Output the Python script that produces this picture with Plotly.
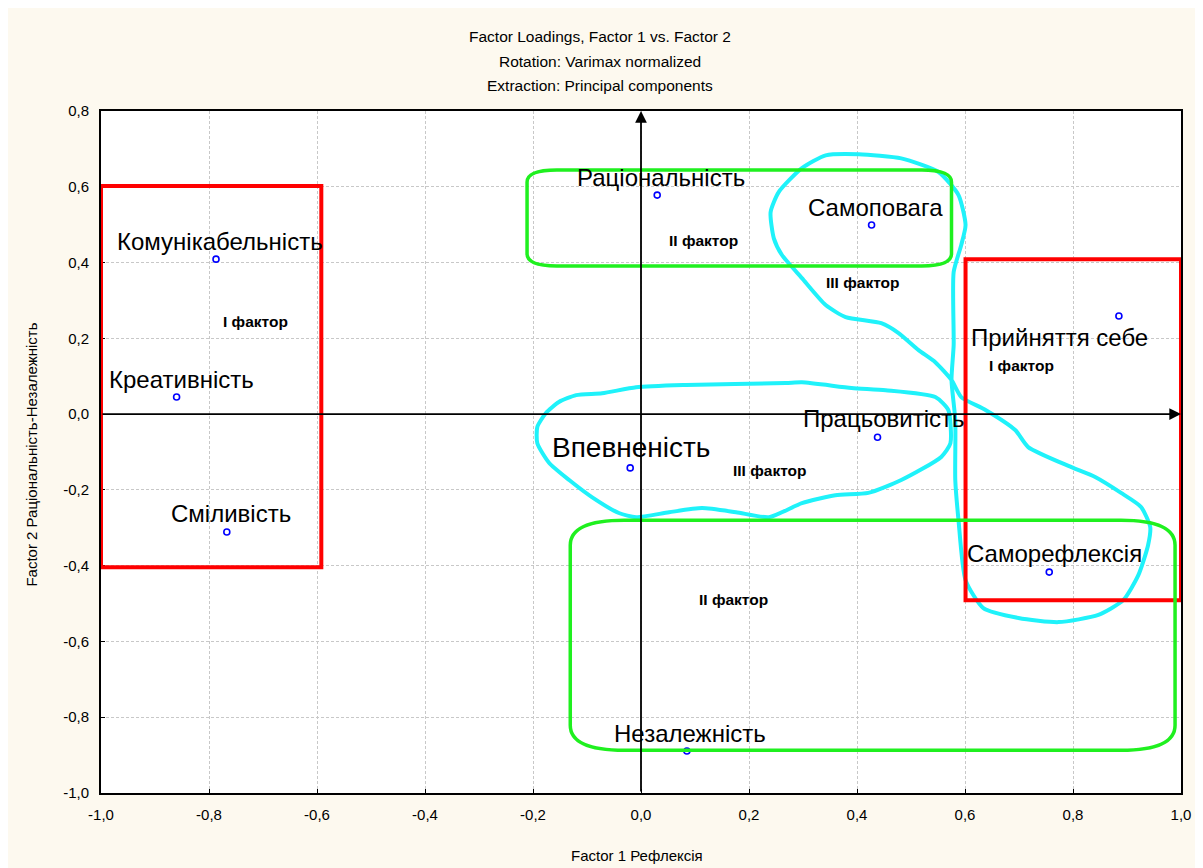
import plotly.graph_objects as go

# ---- data ----
names = ["Комунікабельність", "Креативність", "Сміливість", "Раціональність", "Самоповага",
         "Прийняття себе", "Працьовитість", "Впевненість", "Саморефлексія", "Незалежність"]
factor1 = [-0.787, -0.860, -0.767, 0.030, 0.427, 0.885, 0.438, -0.020, 0.756, 0.085]
factor2 = [0.409, 0.045, -0.311, 0.578, 0.499, 0.259, -0.061, -0.142, -0.417, -0.889]

tick_vals_x = [-1.0, -0.8, -0.6, -0.4, -0.2, 0.0, 0.2, 0.4, 0.6, 0.8, 1.0]
tick_text_x = ["-1,0", "-0,8", "-0,6", "-0,4", "-0,2", "0,0", "0,2", "0,4", "0,6", "0,8", "1,0"]
tick_vals_y = [-1.0, -0.8, -0.6, -0.4, -0.2, 0.0, 0.2, 0.4, 0.6, 0.8]
tick_text_y = ["-1,0", "-0,8", "-0,6", "-0,4", "-0,2", "0,0", "0,2", "0,4", "0,6", "0,8"]

factor_labels = ["I фактор", "II фактор", "III фактор", "I фактор", "III фактор", "II фактор"]
factor_label_x = [-0.713, 0.116, 0.412, 0.704, 0.238, 0.172]
factor_label_y = [0.245, 0.459, 0.348, 0.129, -0.150, -0.488]

# hand-drawn groupings (data units)
red_boxes = [(-1.0, -0.404, -0.592, 0.602), (0.601, -0.491, 1.0, 0.409)]
green_boxes = [(-0.211, 0.391, 0.575, 0.644, 0.055, 0.032),
               (-0.131, -0.887, 0.989, -0.280, 0.10, 0.066)]
cyan_a_x = [0.482, 0.551, 0.588, 0.601, 0.593, 0.579, 0.579, 0.575, 0.582, 0.582, 0.588, 0.601,
            0.634, 0.699, 0.773, 0.847, 0.893, 0.921, 0.939, 0.943, 0.926, 0.889, 0.841, 0.797,
            0.717, 0.693, 0.638, 0.593, 0.575, 0.545, 0.514, 0.477, 0.445, 0.379, 0.342, 0.298,
            0.261, 0.246, 0.240, 0.255, 0.298, 0.342, 0.403, 0.482]
cyan_a_y = [0.675, 0.639, 0.578, 0.499, 0.446, 0.375, 0.182, 0.090, -0.016, -0.174, -0.280, -0.438,
            -0.512, -0.538, -0.549, -0.530, -0.491, -0.425, -0.346, -0.298, -0.245, -0.208, -0.166, -0.140,
            -0.087, -0.042, 0.011, 0.045, 0.090, 0.137, 0.169, 0.214, 0.240, 0.256, 0.288, 0.359,
            0.420, 0.464, 0.533, 0.586, 0.649, 0.683, 0.686, 0.675]
cyan_b_x = [-0.120, -0.072, -0.009, 0.083, 0.268, 0.298, 0.390, 0.453, 0.545, 0.569, 0.573, 0.556,
            0.482, 0.421, 0.360, 0.298, 0.237, 0.176, 0.113, 0.052, -0.009, -0.041, -0.091, -0.133,
            -0.170, -0.192, -0.192, -0.176, -0.152, -0.120]
cyan_b_y = [0.050, 0.055, 0.071, 0.077, 0.082, 0.084, 0.069, 0.063, 0.045, 0.011, -0.077, -0.113,
            -0.174, -0.208, -0.214, -0.235, -0.272, -0.259, -0.248, -0.259, -0.272, -0.261, -0.219, -0.174,
            -0.129, -0.077, -0.034, 0.003, 0.032, 0.050]

# label placement (pixel shifts relative to the point)
label_dx = [4, 5, 4, 4, 4, -59, 6, 1, 5, 3]
label_dy = [18, 18, 18, 18, 18, -22, 19, 20, 19, 17]
label_size = [24, 24, 24, 24, 24, 24, 24, 28, 24, 24]

FONT = "Liberation Sans, Arial, sans-serif"

fig = go.Figure()

shapes = []
for (x0, y0, x1, y1) in red_boxes:
    shapes.append(dict(type="rect", xref="x", yref="y", x0=x0, y0=y0, x1=x1, y1=y1,
                       line=dict(color="#FF0000", width=4), layer="above"))
for (x0, y0, x1, y1, rx, ry) in green_boxes:
    p = (f"M {x0+rx},{y1} L {x1-rx},{y1} Q {x1},{y1} {x1},{y1-ry} L {x1},{y0+ry} "
         f"Q {x1},{y0} {x1-rx},{y0} L {x0+rx},{y0} Q {x0},{y0} {x0},{y0+ry} "
         f"L {x0},{y1-ry} Q {x0},{y1} {x0+rx},{y1} Z")
    shapes.append(dict(type="path", xref="x", yref="y", path=p,
                       line=dict(color="#1FF01F", width=3.5), layer="above"))
fig.update_layout(shapes=shapes)

for cx, cy in [(cyan_a_x, cyan_a_y), (cyan_b_x, cyan_b_y)]:
    fig.add_trace(go.Scatter(x=cx, y=cy, mode="lines",
                             line=dict(color="#1FF2FA", width=4, shape="spline", smoothing=0.6),
                             hoverinfo="skip", showlegend=False))

fig.add_trace(go.Scatter(x=factor1, y=factor2, mode="markers",
                         marker=dict(symbol="circle-open", size=6, color="#0000FF",
                                     line=dict(width=1.6, color="#0000FF")),
                         showlegend=False, text=names))

ann = []
for n, x, y, dx, dy, s in zip(names, factor1, factor2, label_dx, label_dy, label_size):
    ann.append(dict(x=x, y=y, xref="x", yref="y", text=n, showarrow=False, xshift=dx, yshift=dy,
                    font=dict(family=FONT, size=s, color="black")))
for t, x, y in zip(factor_labels, factor_label_x, factor_label_y):
    ann.append(dict(x=x, y=y, xref="x", yref="y", text=f"<b>{t}</b>", showarrow=False,
                    font=dict(family=FONT, size=15.5, color="black")))

# axis arrows
ann.append(dict(x=0, y=0.8, ax=0, ay=-1.0, xref="x", yref="y", axref="x", ayref="y", text="",
                showarrow=True, arrowhead=2, arrowsize=1.3, arrowwidth=1.8, arrowcolor="black"))
ann.append(dict(x=1.0, y=0, ax=-1.0, ay=0, xref="x", yref="y", axref="x", ayref="y", text="",
                showarrow=True, arrowhead=2, arrowsize=1.3, arrowwidth=1.8, arrowcolor="black"))

titles = ["Factor Loadings, Factor 1 vs. Factor 2", "Rotation: Varimax normalized",
          "Extraction: Principal components"]
for t, yp in zip(titles, [1.109, 1.072, 1.038]):
    ann.append(dict(x=0.462, y=yp, xref="paper", yref="paper", text=t, showarrow=False,
                    font=dict(family=FONT, size=15.5, color="black"), yanchor="middle"))
ann.append(dict(x=0.496, y=-0.091, xref="paper", yref="paper", text="Factor 1 Рефлексія", showarrow=False,
                font=dict(family=FONT, size=15, color="black"), yanchor="middle"))
ann.append(dict(x=-0.064, y=0.496, xref="paper", yref="paper", text="Factor 2 Раціональність-Незалежність",
                showarrow=False, textangle=-90, font=dict(family=FONT, size=15, color="black"),
                xanchor="center", yanchor="middle"))
fig.update_layout(annotations=ann)

axis_common = dict(showgrid=True, gridcolor="#C8C8C8", griddash="3px,2px", gridwidth=1, zeroline=False,
                   showline=True, linecolor="black", linewidth=2, mirror=True,
                   ticks="inside", ticklen=4, tickcolor="black",
                   tickfont=dict(family=FONT, size=15, color="black"), ticklabelstandoff=7)
fig.update_xaxes(range=[-1.0, 1.0], tickvals=tick_vals_x, ticktext=tick_text_x, **axis_common)
fig.update_yaxes(range=[-1.0, 0.8], tickvals=tick_vals_y, ticktext=tick_text_y, **axis_common)

fig.update_layout(width=1195, height=860, margin=dict(l=93, r=20, t=103, b=75),
                  paper_bgcolor="#FDF9EF", plot_bgcolor="white", showlegend=False,
                  font=dict(family=FONT))

fig.write_html("out.html")
